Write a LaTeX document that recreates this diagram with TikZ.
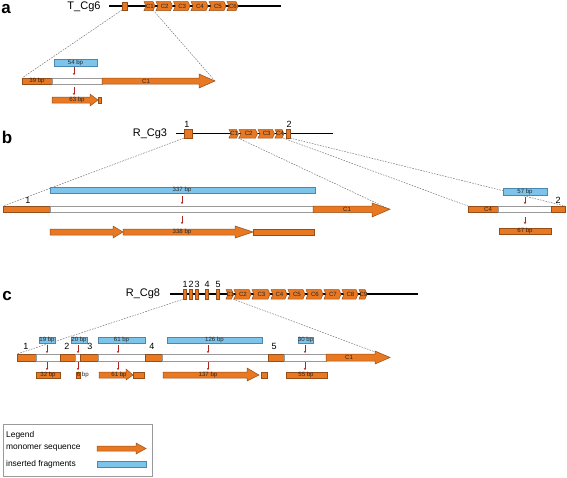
\documentclass[tikz,border=0pt]{standalone}
\usepackage{fontspec}
\setmainfont{Liberation Sans}
\usetikzlibrary{arrows.meta}
\definecolor{orfill}{RGB}{232,120,34}
\definecolor{ordraw}{RGB}{150,78,25}
\definecolor{blfill}{RGB}{125,196,234}
\definecolor{bldraw}{RGB}{75,135,175}
\definecolor{tickred}{RGB}{170,40,30}
\tikzset{
  orangebox/.style={fill=orfill,draw=ordraw,line width=0.5pt},
  whitebox/.style={fill=white,draw=gray!80,line width=0.6pt},
  bluebox/.style={fill=blfill,draw=bldraw,line width=0.5pt},
  backbone/.style={draw=black,line width=1.1pt},
  zoomline/.style={draw=gray!85!black,dashed,dash pattern=on 1.6pt off 1.2pt,line width=0.45pt},
  redtick/.style={draw=tickred,line width=0.9pt,-{Stealth[length=2pt,width=2.4pt]}},
  tinylab/.style={font=\fontsize{6.1}{6.5}\selectfont,text=black!85,inner sep=0pt},
  numlab/.style={font=\fontsize{9}{10}\selectfont,inner sep=0pt},
  namelab/.style={font=\fontsize{11}{12}\selectfont,inner sep=0pt},
  panellab/.style={font=\fontsize{17}{18}\selectfont\bfseries,inner sep=0pt},
  legtext/.style={font=\fontsize{8.4}{9}\selectfont,inner sep=0pt,anchor=west}
}
% monomer chevron: x0 x1 ytop ybot label
\newcommand\Mono[5]{%
  \draw[orangebox] (#1,#3) -- ({#2-2},#3) -- (#2,{(#3+#4)/2}) -- ({#2-2},#4) -- (#1,#4) -- ({#1+2},{(#3+#4)/2}) -- cycle;
  \node[tinylab] at ({(#1+#2)/2+0.4},{(#3+#4)/2}) {#5};}
% arrow bar: x0 xhead xtip y0 y1 hy0 hy1
\newcommand\ArrowBar[7]{%
  \draw[orangebox] (#1,#4) -- (#2,#4) -- (#2,#6) -- (#3,{(#4+#5)/2}) -- (#2,#7) -- (#2,#5) -- (#1,#5) -- cycle;}
\begin{document}
\begin{tikzpicture}[x=1pt,y=-1pt]
\useasboundingbox[fill=white] (0,0) rectangle (567,477);

%================ panel a
\node[panellab,anchor=base] (la) at (6,13) {a};
\node[namelab] (na) at (84,6.5) {T\_Cg6};
\draw[backbone] (109,6) -- (281,6);
\draw[orangebox] (122,2) rectangle (127,10);
\coordinate (a1) at (122,10);
\coordinate (a2) at (153,10);
\Mono{144}{155}{1.5}{10.5}{C1}
\Mono{156}{172.5}{1.5}{10.5}{C2}
\Mono{173.5}{190}{1.5}{10.5}{C3}
\Mono{191}{208}{1.5}{10.5}{C4}
\Mono{209}{226}{1.5}{10.5}{C5}
\Mono{227}{238}{1.5}{10.5}{C6}
\coordinate (a3) at (22,78);
\coordinate (a4) at (215,81);
\draw[zoomline] (a1) -- (a3);
\draw[zoomline] (a2) -- (a4);
\draw[orangebox] (22,78) rectangle (52,84);
\node[tinylab] at (37,81) {39 bp};
\draw[whitebox] (52,78) rectangle (102,84);
\ArrowBar{102}{199}{215}{78}{84}{74}{88}
\node[tinylab] at (146,81) {C1};
\draw[bluebox] (54,59) rectangle (97,66);
\node[tinylab] at (75.5,62.5) {54 bp};
\draw[redtick] (74,67) -- (74,75);
\draw[redtick] (74,87) -- (74,95);
\ArrowBar{52}{90}{98}{97}{103}{94}{106}
\node[tinylab] at (77,100) {63 bp};
\draw[orangebox] (98.5,97) rectangle (101.5,103);

%================ panel b
\node[panellab] (lb) at (7,137) {b};
\node[namelab] (nb) at (150,134) {R\_Cg3};
\draw[backbone] (176,133.5) -- (333,133.5);
\draw[orangebox] (184,129.5) rectangle (192,138);
\node[numlab] at (187,124) {1};
\Mono{229}{238.5}{129.5}{138}{C1}
\Mono{239}{257.5}{129.5}{138}{C2}
\Mono{258}{274.5}{129.5}{138}{C3}
\Mono{275}{284}{129.5}{138}{C4}
\draw[orangebox] (286.5,129.5) rectangle (290,138);
\node[numlab] at (289,124) {2};
\coordinate (b1) at (184,138);
\coordinate (b2) at (238,138);
\coordinate (b3) at (283,138);
\coordinate (b4) at (290,138);
\coordinate (b5) at (3,206);
\coordinate (b6) at (390,209.5);
\coordinate (b7) at (468,206);
\coordinate (b8) at (565,206);
\draw[zoomline] (b1) -- (b5);
\draw[zoomline] (b2) -- (b6);
\draw[zoomline] (b3) -- (b7);
\draw[zoomline] (b4) -- (b8);
% main bar
\draw[orangebox] (3,206) rectangle (50,212.5);
\node[numlab] at (28,200) {1};
\draw[whitebox] (50,206) rectangle (313,212.5);
\ArrowBar{313}{372}{390}{206}{212.5}{203}{217}
\node[tinylab] at (347,209.5) {C1};
\draw[bluebox] (50,187) rectangle (315,193);
\node[tinylab] at (182,190) {337 bp};
\draw[redtick] (182,196) -- (182,204);
\draw[redtick] (182,216) -- (182,224);
\ArrowBar{50}{113}{123}{229}{235}{226}{238}
\ArrowBar{123}{235}{253}{229}{235}{226}{238}
\node[tinylab] at (182,232) {338 bp};
\draw[orangebox] (253,229) rectangle (314,235);
% right bar
\draw[orangebox] (468,206) rectangle (498,212.5);
\node[tinylab] at (488,209.5) {C4};
\draw[whitebox] (498,206) rectangle (551,212.5);
\draw[orangebox] (551,206) rectangle (565,212.5);
\node[numlab] at (558,200) {2};
\draw[bluebox] (503,188) rectangle (547,195);
\node[tinylab] at (525,191.5) {57 bp};
\draw[redtick] (525,197) -- (525,204);
\draw[redtick] (525,217) -- (525,224);
\draw[orangebox] (499,228) rectangle (551,234);
\node[tinylab] at (525,231) {67 bp};

%================ panel c
\node[panellab] (lc) at (7,296) {c};
\node[namelab] (nc) at (143,294) {R\_Cg8};
\draw[backbone] (170,294) -- (418,294);
\foreach \xx/\nn in {185/1,191/2,197/3,207/4,218/5}{
  \draw[orangebox] ({\xx-1.5},289.5) rectangle ({\xx+1.5},299);
  \node[numlab] at (\xx,284) {\nn};
}
\Mono{226}{233.5}{289.5}{299}{C1}
\Mono{234}{251}{289.5}{299}{C2}
\Mono{252}{270}{289.5}{299}{C3}
\Mono{271}{287}{289.5}{299}{C4}
\Mono{288}{305}{289.5}{299}{C5}
\Mono{306}{323}{289.5}{299}{C6}
\Mono{324}{341}{289.5}{299}{C7}
\Mono{342}{358}{289.5}{299}{C8}
\Mono{359}{367}{289.5}{299}{C9}
\coordinate (c1) at (184,299);
\coordinate (c2) at (233,299);
\coordinate (c3) at (17,354);
\coordinate (c4) at (390,357.5);
\draw[zoomline] (c1) -- (c3);
\draw[zoomline] (c2) -- (c4);
% main bar
\draw[orangebox] (17,354) rectangle (36,361);
\draw[whitebox] (36,354) rectangle (60,361);
\draw[orangebox] (60,354) rectangle (75,361);
\draw[whitebox] (75,354) rectangle (80,361);
\draw[orangebox] (80,354) rectangle (98,361);
\draw[whitebox] (98,354) rectangle (145,361);
\draw[orangebox] (145,354) rectangle (162,361);
\draw[whitebox] (162,354) rectangle (268,361);
\draw[orangebox] (268,354) rectangle (284,361);
\draw[whitebox] (284,354) rectangle (326,361);
\ArrowBar{326}{375}{390}{354}{361}{351}{364}
\node[tinylab] at (349,357.5) {C1};
\foreach \xx/\nn in {26/1,67/2,90/3,152/4,274/5}{
  \node[numlab] at (\xx,346) {\nn};
}
% inserted fragments
\draw[bluebox] (39,337) rectangle (55,343);
\node[tinylab] at (47,340) {19 bp};
\draw[bluebox] (71,337) rectangle (87,343);
\node[tinylab] at (79,340) {20 bp};
\draw[bluebox] (98,337) rectangle (145,343);
\node[tinylab] at (121.5,340) {61 bp};
\draw[bluebox] (167,337) rectangle (262,343);
\node[tinylab] at (214.5,340) {126 bp};
\draw[bluebox] (298,337) rectangle (313,343);
\node[tinylab] at (305.5,340) {30 bp};
\foreach \xx in {47,78,118,208,305}{
  \draw[redtick] (\xx,345) -- (\xx,353);
  \draw[redtick] (\xx,362) -- (\xx,370);
}
% products
\draw[orangebox] (36,372) rectangle (60,378);
\node[tinylab] at (48,375) {32 bp};
\draw[orangebox] (76,372) rectangle (80,378);
\node[tinylab,anchor=west] at (76.6,375) {6 bp};
\ArrowBar{99}{126}{133}{372}{378}{369}{380}
\node[tinylab] at (119,375) {61 bp};
\draw[orangebox] (133.5,372) rectangle (144,378);
\ArrowBar{163}{247}{259}{372}{378}{368}{381}
\node[tinylab] at (208,375) {137 bp};
\draw[orangebox] (261,372) rectangle (267,378);
\draw[orangebox] (286,372) rectangle (327,378);
\node[tinylab] at (306,375) {55 bp};

%================ legend
\draw[draw=gray!80,line width=0.6pt] (3,424) rectangle (152,476);
\node[legtext] (lg1) at (6,435) {Legend};
\node[legtext] (lg2) at (6,448) {monomer sequence};
\node[legtext] (lg3) at (6,464) {inserted fragments};
\ArrowBar{97}{136}{146}{446}{451}{443}{454}
\draw[bluebox] (97,461) rectangle (146,467);
\end{tikzpicture}
\end{document}
